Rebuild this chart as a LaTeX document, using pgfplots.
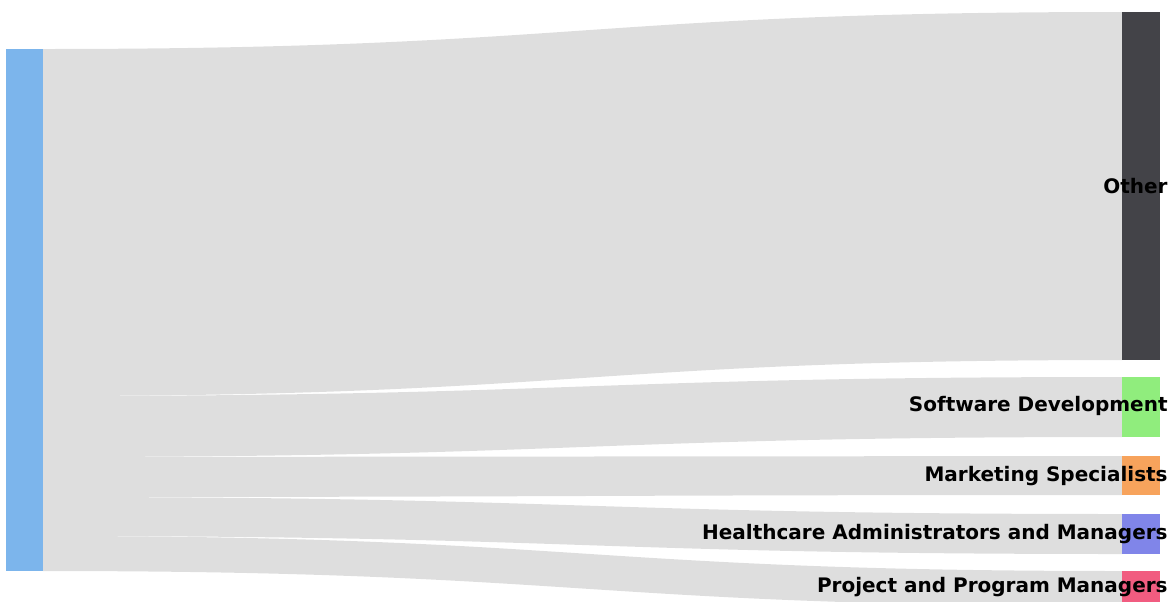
\documentclass[border=0pt]{standalone}
\usepackage{pgfplots}
\pgfplotsset{compat=1.18}
\usepackage{fontspec}
\setmainfont{DejaVu Sans}
\definecolor{linkc}{HTML}{DEDEDE}
\definecolor{srcc}{HTML}{7CB5EC}
\definecolor{othc}{HTML}{434348}
\definecolor{swc}{HTML}{90ED7D}
\definecolor{mkc}{HTML}{F7A35C}
\definecolor{hcc}{HTML}{8085E9}
\definecolor{pjc}{HTML}{F15C80}
% link: source top, source bottom, target top, target bottom (pixel units)
\newcommand\link[4]{%
  \fill[linkc] (axis cs:43,#1) .. controls (axis cs:582.5,#1) and (axis cs:582.5,#3) .. (axis cs:1122,#3)
    -- (axis cs:1122,#4) .. controls (axis cs:582.5,#4) and (axis cs:582.5,#2) .. (axis cs:43,#2) -- cycle;}
\begin{document}
\begin{tikzpicture}
\begin{axis}[
  scale only axis, width=586.5pt, height=300.5pt,
  xmin=0, xmax=1173, ymin=0, ymax=601, y dir=reverse,
  hide axis, clip=true,
]
\path (axis cs:0,0) rectangle (axis cs:1173,601);
\link{49}{396}{12}{360}
\link{396}{457}{377}{437}
\link{457}{497}{456}{495}
\link{497}{536}{514}{554}
\link{536}{571}{571}{606}
% nodes
\addplot[fill=srcc, draw=none] coordinates {(6,49) (43,49) (43,571) (6,571)};
\addplot[fill=othc, draw=none] coordinates {(1122,12) (1160,12) (1160,360) (1122,360)};
\addplot[fill=swc, draw=none] coordinates {(1122,377) (1160,377) (1160,437) (1122,437)};
\addplot[fill=mkc, draw=none] coordinates {(1122,456) (1160,456) (1160,495) (1122,495)};
\addplot[fill=hcc, draw=none] coordinates {(1122,514) (1160,514) (1160,554) (1122,554)};
\addplot[fill=pjc, draw=none] coordinates {(1122,571) (1160,571) (1160,606) (1122,606)};
\begin{scope}[every node/.style={anchor=east, inner sep=0pt, font=\fontsize{10pt}{12pt}\selectfont\bfseries}]
\node at (axis cs:1168,186) {Other};
\node at (axis cs:1168,406) {Software Development};
\node at (axis cs:1168,476) {Marketing Specialists};
\node at (axis cs:1168,534) {Healthcare Administrators and Managers};
\node at (axis cs:1168,587) {Project and Program Managers};
\end{scope}
\end{axis}
\end{tikzpicture}
\end{document}
